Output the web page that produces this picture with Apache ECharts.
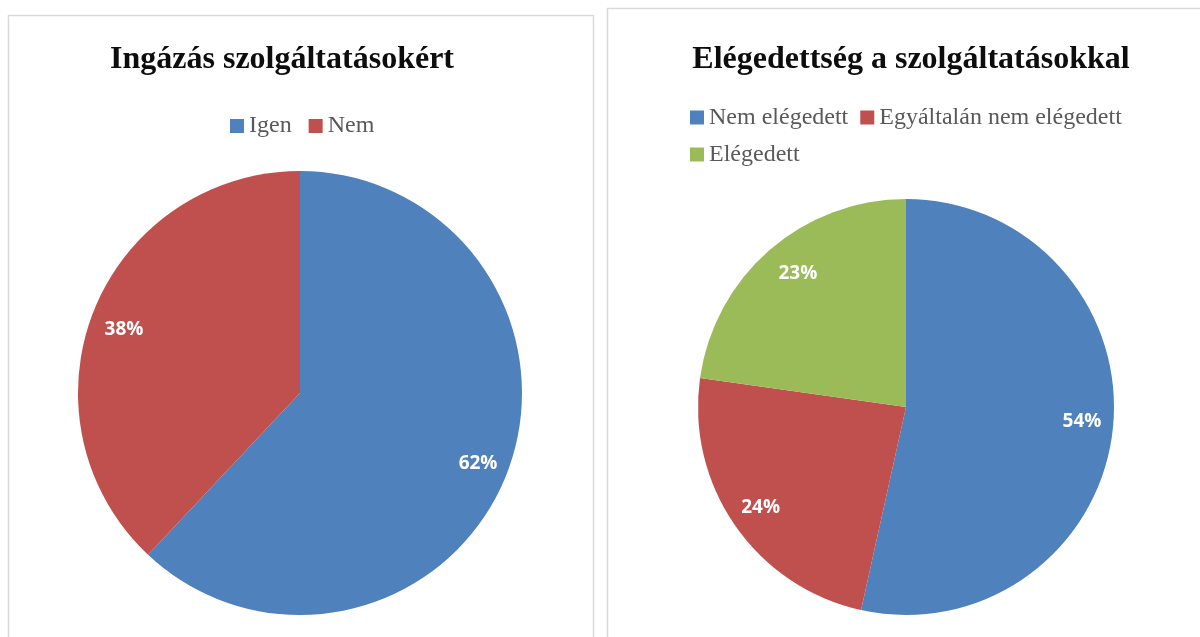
<!DOCTYPE html>
<html>
<head>
<meta charset="utf-8">
<script src="https://cdn.jsdelivr.net/npm/echarts@6/dist/echarts.min.js"></script>
<style>
html,body{margin:0;padding:0;background:#fff;}
#c{width:1200px;height:637px;}
</style>
</head>
<body>
<div id="c"></div>
<script>
const leftTitle = 'Ingázás szolgáltatásokért';
const leftCategories = ['Igen', 'Nem'];
const leftValues = [62, 38];
const rightTitle = 'Elégedettség a szolgáltatásokkal';
const rightCategories = ['Nem elégedett', 'Egyáltalán nem elégedett', 'Elégedett'];
const rightValues = [54, 24, 23];

const leftColors = ['#4F81BD', '#C0504D'];
const rightColors = ['#4F81BD', '#C0504D', '#9BBB59'];

function mk(cats, vals, colors, offsets) {
  return cats.map((n, i) => {
    const d = { name: n, value: vals[i], itemStyle: { color: colors[i] } };
    if (offsets && offsets[i]) d.label = { offset: offsets[i] };
    return d;
  });
}

const serif = '"Liberation Serif", "Times New Roman", serif';
const labelStyle = {
  show: true, position: 'inside', formatter: '{c}%', overflow: 'none',
  color: '#ffffff', fontFamily: '"Open Sans", sans-serif', fontWeight: 'bold', fontSize: 19
};
const transparent = 'rgba(0,0,0,0)';

const chart = echarts.init(document.getElementById('c'), null, { renderer: 'canvas' });
chart.setOption({
  animation: false,
  backgroundColor: '#ffffff',
  graphic: [
    { type: 'rect', shape: { x: 8.5, y: 15.5, width: 585, height: 640 }, style: { fill: 'none', stroke: '#d9d9d9', lineWidth: 1.5 }, z: -1 },
    { type: 'rect', shape: { x: 607.5, y: 8.5, width: 620, height: 650 }, style: { fill: 'none', stroke: '#d9d9d9', lineWidth: 1.5 }, z: -1 }
  ],
  title: [
    { text: leftTitle, left: 277, top: 39, textAlign: 'center',
      textStyle: { fontFamily: serif, fontWeight: 'bold', fontSize: 32, color: '#0d0d0d' } },
    { text: rightTitle, left: 906, top: 39, textAlign: 'center',
      textStyle: { fontFamily: serif, fontWeight: 'bold', fontSize: 32, color: '#0d0d0d' } }
  ],
  legend: [
    { data: leftCategories, top: 109, left: 225,
      itemWidth: 14, itemHeight: 14, itemGap: 17, icon: 'rect', selectedMode: false,
      textStyle: { fontFamily: serif, fontSize: 24, color: '#595959', lineHeight: 24 } },
    { data: rightCategories, left: 685, top: 100, width: 470,
      itemWidth: 14, itemHeight: 14, itemGap: 12, icon: 'rect', selectedMode: false,
      textStyle: { fontFamily: serif, fontSize: 24, color: '#595959', lineHeight: 25 } }
  ],
  series: [
    { type: 'pie', center: [300, 393], radius: [0, 222], startAngle: 90, clockwise: true,
      data: mk(leftCategories, leftValues, leftColors), label: { show: false }, labelLine: { show: false },
      silent: true, itemStyle: { borderWidth: 0 } },
    { type: 'pie', center: [300, 393], radius: [155, 222], startAngle: 90, clockwise: true,
      data: mk(leftCategories, leftValues, [transparent, transparent], [null, [2, 7]]),
      label: labelStyle, labelLine: { show: false }, silent: true, legendHoverLink: false,
      itemStyle: { borderWidth: 0 } },
    { type: 'pie', center: [906, 407], radius: [0, 208], startAngle: 90, clockwise: true,
      data: mk(rightCategories, rightValues, rightColors), label: { show: false }, labelLine: { show: false },
      silent: true, itemStyle: { borderWidth: 0 } },
    { type: 'pie', center: [906, 407], radius: [140, 208], startAngle: 90, clockwise: true,
      data: mk(rightCategories, rightValues, [transparent, transparent, transparent], [[0, -5], null, [8, 0]]),
      label: labelStyle, labelLine: { show: false }, silent: true, legendHoverLink: false,
      itemStyle: { borderWidth: 0 } }
  ]
});
</script>
</body>
</html>
